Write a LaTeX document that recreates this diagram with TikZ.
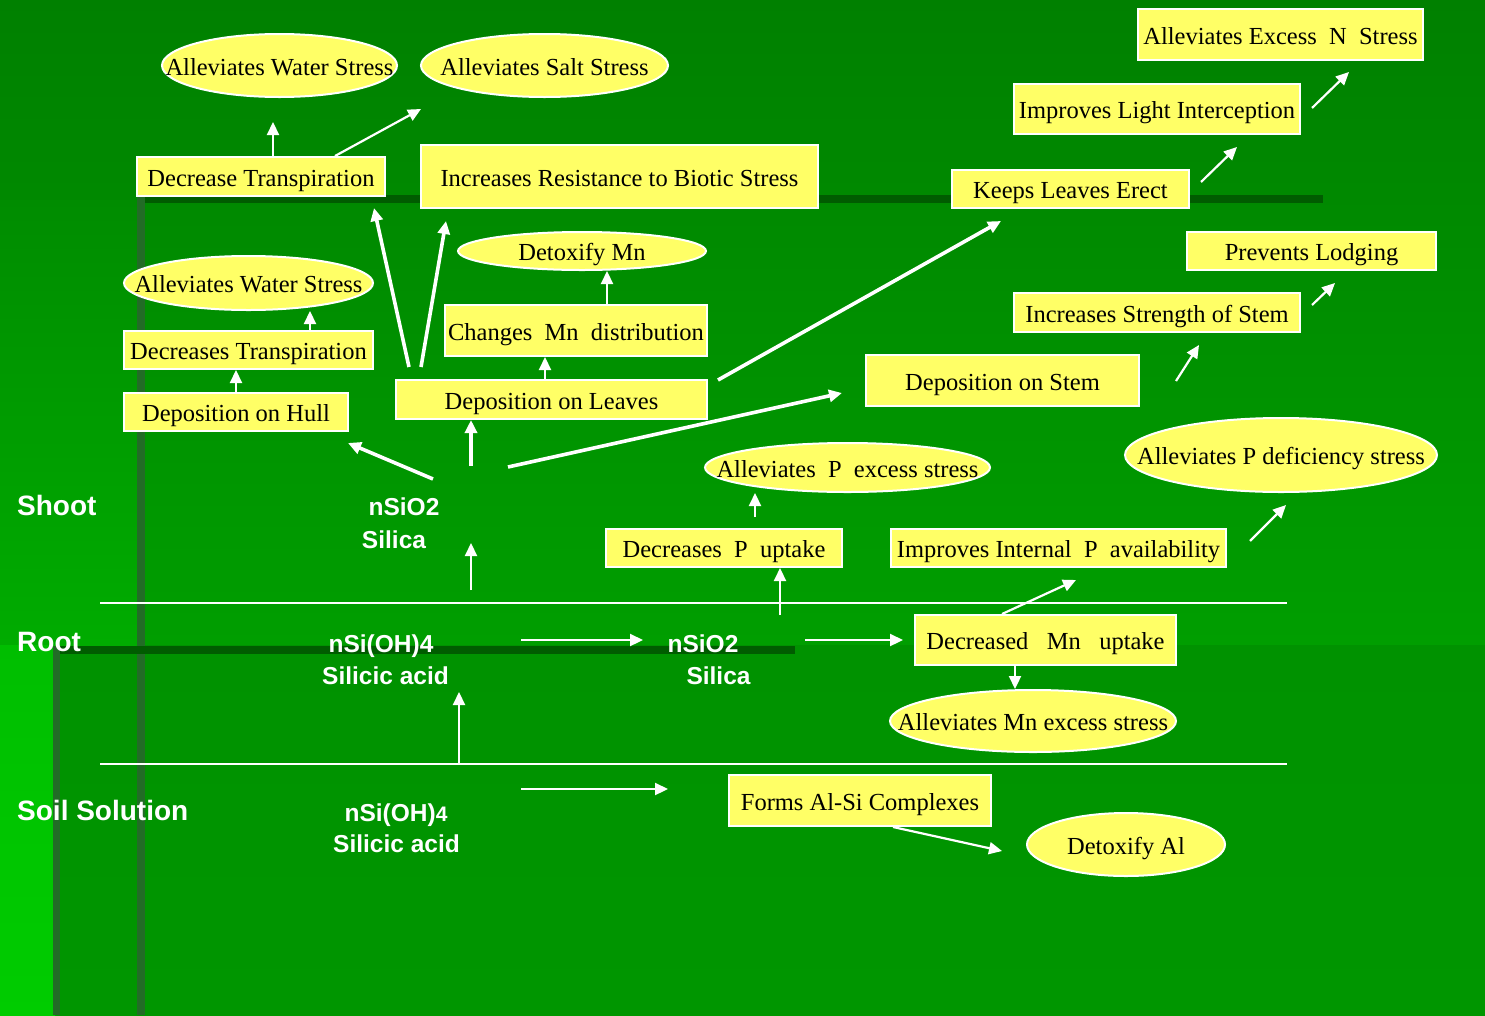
\documentclass[tikz,border=0pt]{standalone}
\usepackage{fontspec}
\setmainfont{Liberation Serif}
\newfontfamily\labfont{Liberation Sans}
\usetikzlibrary{shapes.geometric,arrows.meta}
\definecolor{boxyellow}{RGB}{255,255,102}
\definecolor{bgtop}{RGB}{0,128,0}
\definecolor{bgmid}{RGB}{0,158,0}
\definecolor{bglow}{RGB}{0,146,0}
\definecolor{bglow2}{RGB}{0,150,0}
\definecolor{lefttop}{RGB}{0,140,0}
\definecolor{leftmid}{RGB}{0,172,0}
\definecolor{leftlow}{RGB}{0,190,0}
\definecolor{leftbot}{RGB}{0,204,0}
\definecolor{darkbar}{RGB}{0,92,0}
\definecolor{shadebar}{RGB}{34,108,38}
\newcommand{\zwbox}[1]{\makebox[0pt]{#1}}
\begin{document}
\begin{tikzpicture}[x=1pt,y=-1pt,
  rbox/.style={rectangle, draw=white, line width=2pt, fill=boxyellow, inner sep=0pt,
    font=\fontsize{24.5pt}{29pt}\selectfont, text height=21pt, text depth=2pt},
  ell/.style={ellipse, draw=white, line width=2pt, fill=boxyellow, inner sep=0pt,
    font=\fontsize{24.5pt}{29pt}\selectfont, text height=21pt, text depth=2pt},
  zone/.style={text=white, inner sep=0pt, anchor=west,
    font=\labfont\bfseries\fontsize{28pt}{32pt}\selectfont, text height=20pt, text depth=0pt},
  chem/.style={text=white, inner sep=0pt,
    font=\labfont\bfseries\fontsize{24.5pt}{29pt}\selectfont, text height=17.5pt, text depth=0pt},
  arr/.style={draw=white, line width=2.2pt, -{Triangle[length=13pt,width=12pt]}},
  tarr/.style={draw=white, line width=3.6pt, -{Triangle[length=13pt,width=12pt]}},
  sep/.style={draw=white, line width=2.8pt}
]
\useasboundingbox (0,0) rectangle (1485,1015);
% background
\shade[top color=bgtop, bottom color=bgmid] (0,0) rectangle (1485,645);
\shade[top color=bglow, bottom color=bglow2] (0,645) rectangle (1485,1015);
\shade[top color=lefttop, bottom color=leftmid] (0,200) rectangle (137,645);
\shade[top color=leftlow, bottom color=leftbot] (0,645) rectangle (55,1015);
\fill[darkbar] (137,195) rectangle (1323,203);
\fill[shadebar] (137,195) rectangle (145,1015);
\fill[darkbar] (53,646) rectangle (795,654);
\fill[shadebar] (53,646) rectangle (60,1015);
% separators
\draw[sep] (100,603) -- (1287,603);
\draw[sep] (100,764) -- (1287,764);

% boxes
\node[rbox, minimum width=248pt, minimum height=39pt] (dtr) at (261,176.5) {Decrease Transpiration};
\node[rbox, minimum width=397pt, minimum height=63pt] (irb) at (619.5,176.5) {Increases Resistance to Biotic Stress};
\node[rbox, minimum width=237pt, minimum height=38pt] (kle) at (1070.5,189) {Keeps Leaves Erect};
\node[rbox, minimum width=286pt, minimum height=50pt] (ili) at (1157,109) {Improves Light Interception};
\node[rbox, minimum width=285pt, minimum height=51pt] (aen) at (1280.5,34.5) {Alleviates Excess~~N~~Stress};
\node[rbox, minimum width=249pt, minimum height=38pt] (pl) at (1311.5,251) {Prevents Lodging};
\node[rbox, minimum width=286pt, minimum height=39pt] (iss) at (1157,312.5) {Increases Strength of Stem};
\node[rbox, minimum width=273pt, minimum height=51pt] (dst) at (1002.5,380.5) {Deposition on Stem};
\node[rbox, minimum width=262pt, minimum height=51pt] (cmd) at (576,330.5) {Changes~~Mn~~distribution};
\node[rbox, minimum width=311pt, minimum height=39pt] (dle) at (551.5,399.5) {Deposition on Leaves};
\node[rbox, minimum width=249pt, minimum height=38pt] (dtr2) at (248.5,350) {Decreases Transpiration};
\node[rbox, minimum width=224pt, minimum height=38pt] (dhu) at (236,412) {Deposition on Hull};
\node[rbox, minimum width=236pt, minimum height=38pt] (dpu) at (724,548) {Decreases~~P~~uptake};
\node[rbox, minimum width=335pt, minimum height=38pt] (iip) at (1058.5,548) {Improves Internal~~P~~availability};
\node[rbox, minimum width=261pt, minimum height=50pt] (dmu) at (1045.5,640) {Decreased~~~Mn~~~uptake};
\node[rbox, minimum width=262pt, minimum height=51pt] (fas) at (860,800.5) {Forms Al-Si Complexes};

% ellipses
\node[ell, minimum width=235pt, minimum height=63pt] (aws) at (279.5,65.5) {\zwbox{Alleviates Water Stress}};
\node[ell, minimum width=247pt, minimum height=63pt] (ass) at (544.5,65.5) {\zwbox{Alleviates Salt Stress}};
\node[ell, minimum width=249pt, minimum height=54pt] (aws2) at (248.5,283) {\zwbox{Alleviates Water Stress}};
\node[ell, minimum width=248pt, minimum height=38pt] (dmn) at (582,251) {\zwbox{Detoxify Mn}};
\node[ell, minimum width=285pt, minimum height=49pt] (ape) at (847.5,467.5) {\zwbox{Alleviates~~P~~excess stress}};
\node[ell, minimum width=312pt, minimum height=74pt] (apd) at (1281,455) {\zwbox{Alleviates P deficiency stress}};
\node[ell, minimum width=286pt, minimum height=62pt] (ame) at (1033,721) {\zwbox{Alleviates Mn excess stress}};
\node[ell, minimum width=198pt, minimum height=63pt] (dal) at (1126,844.5) {\zwbox{Detoxify Al}};

% zone labels
\node[zone] (shoot) at (17,505) {Shoot};
\node[zone] (root) at (17,641) {Root};
\node[zone] (soil) at (17,810) {Soil Solution};

% chemistry labels
\node[chem] (sio2a) at (404,506.5) {nSiO2};
\node[chem] (silicaa) at (394,540) {Silica};
\node[chem] (siohr) at (381,643.5) {nSi(OH)4};
\node[chem] (sacidr) at (385.5,676) {Silicic acid};
\node[chem] (sio2r) at (703,643.5) {nSiO2};
\node[chem] (silicar) at (718.5,676) {Silica};
\node[chem] (siohs) at (396,812.5) {nSi(OH){\fontsize{21pt}{24pt}\selectfont 4}};
\node[chem] (sacids) at (396.5,844) {Silicic acid};

% free arrow ends
\coordinate (a1e) at (273,122);
\coordinate (a2e) at (421,109);
\coordinate (a3s) at (409,367);
\coordinate (a3e) at (374,208);
\coordinate (a4s) at (421,367);
\coordinate (a4e) at (446,221);
\coordinate (a7s) at (718,380);
\coordinate (a7e) at (1001,221);
\coordinate (a8s) at (1201,182);
\coordinate (a8e) at (1237,147);
\coordinate (a9s) at (1312,108);
\coordinate (a9e) at (1349,72);
\coordinate (a10s) at (1176,381);
\coordinate (a10e) at (1199,345);
\coordinate (a11s) at (1312,305);
\coordinate (a11e) at (1335,283);
\coordinate (a14s) at (433,479);
\coordinate (a14e) at (348,443);
\coordinate (a15s) at (471,466);
\coordinate (a16s) at (508,467);
\coordinate (a16e) at (842,393);
\coordinate (a17s) at (471,590);
\coordinate (a17e) at (471,543);
\coordinate (a18s) at (755,517);
\coordinate (a19s) at (780,615);
\coordinate (a20s) at (1250,541);
\coordinate (a20e) at (1286,505);
\coordinate (a21e) at (1076,580);
\coordinate (a23s) at (521,640);
\coordinate (a23e) at (643,640);
\coordinate (a24s) at (805,640);
\coordinate (a24e) at (903,640);
\coordinate (a25s) at (459,764);
\coordinate (a25e) at (459,692);
\coordinate (a26s) at (521,789);
\coordinate (a26e) at (668,789);
\coordinate (a27e) at (1002,851);

% connectors
\draw[arr] ([xshift=12pt]dtr.north) -- (a1e);
\draw[arr] ([xshift=74pt]dtr.north) -- (a2e);
\draw[tarr] (a3s) -- (a3e);
\draw[tarr] (a4s) -- (a4e);
\draw[arr] ([xshift=31pt]cmd.north) -- ([xshift=25pt]dmn.south);
\draw[arr] ([xshift=-6.5pt]dle.north) -- ([xshift=-31pt]cmd.south);
\draw[tarr] (a7s) -- (a7e);
\draw[arr] (a8s) -- (a8e);
\draw[arr] (a9s) -- (a9e);
\draw[arr] (a10s) -- (a10e);
\draw[arr] (a11s) -- (a11e);
\draw[arr] (dhu.north) -- (dhu.north |- dtr2.south);
\draw[arr] ([xshift=61.5pt]dtr2.north) -- ([xshift=61.5pt]aws2.south);
\draw[tarr] (a14s) -- (a14e);
\draw[tarr] (a15s) -- (a15s |- dle.south);
\draw[tarr] (a16s) -- (a16e);
\draw[arr] (a17s) -- (a17e);
\draw[arr] (a18s) -- (a18s |- ape.south);
\draw[arr] (a19s) -- (a19s |- dpu.south);
\draw[arr] (a20s) -- (a20e);
\draw[arr] ([xshift=-43.5pt]dmu.north) -- (a21e);
\draw[arr] ([xshift=-30.5pt]dmu.south) -- ([xshift=-18pt]ame.north);
\draw[arr] (a23s) -- (a23e);
\draw[arr] (a24s) -- (a24e);
\draw[arr] (a25s) -- (a25e);
\draw[arr] (a26s) -- (a26e);
\draw[arr] ([xshift=33pt]fas.south) -- (a27e);
\end{tikzpicture}
\end{document}
